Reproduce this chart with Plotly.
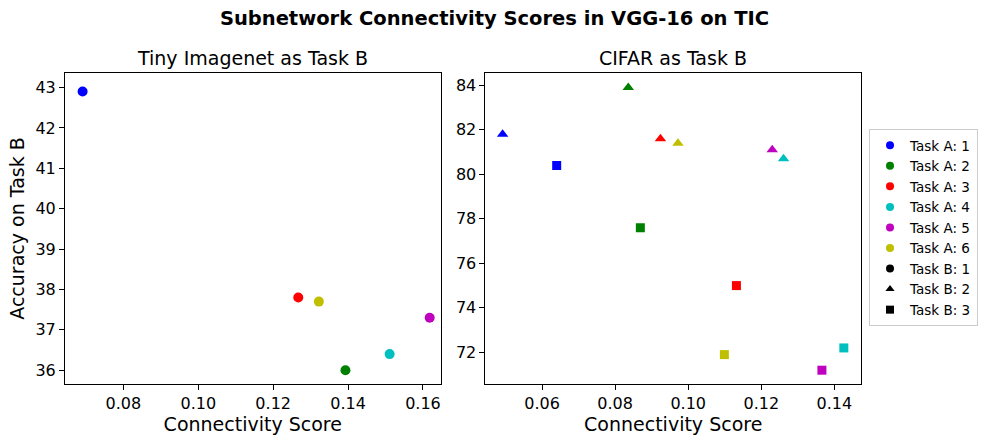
import plotly.graph_objects as go
from plotly.subplots import make_subplots

# Task A colours (1..6), matplotlib b g r c m y
task_a_labels = ["Task A: 1", "Task A: 2", "Task A: 3", "Task A: 4", "Task A: 5", "Task A: 6"]
task_a_colors = ["#0000ff", "#008000", "#ff0000", "#00bfbf", "#bf00bf", "#bfbf00"]
task_b_labels = ["Task B: 1", "Task B: 2", "Task B: 3"]
task_b_symbols = ["circle", "triangle-up", "square"]

# Tiny Imagenet as task B (task B: 1)
tiny_score = [0.0691, 0.1393, 0.1267, 0.1511, 0.1618, 0.1322]
tiny_acc = [42.9, 36.0, 37.8, 36.4, 37.3, 37.7]

# CIFAR as task B (task B: 2 and task B: 3)
cifar_b2_score = [0.0492, 0.0836, 0.0924, 0.1261, 0.1230, 0.0972]
cifar_b2_acc = [81.8, 83.9, 81.6, 80.7, 81.1, 81.4]
cifar_b3_score = [0.0640, 0.0869, 0.1132, 0.1426, 0.1366, 0.1099]
cifar_b3_acc = [80.4, 77.6, 75.0, 72.2, 71.2, 71.9]

FONT = "DejaVu Sans"

fig = make_subplots(rows=1, cols=2, horizontal_spacing=0.0564,
                    subplot_titles=("Tiny Imagenet as Task B", "CIFAR as Task B"))

fig.add_trace(go.Scatter(x=tiny_score, y=tiny_acc, mode="markers", showlegend=False,
                         marker=dict(symbol="circle", size=10, color=task_a_colors)),
              row=1, col=1)
fig.add_trace(go.Scatter(x=cifar_b2_score, y=cifar_b2_acc, mode="markers", showlegend=False,
                         marker=dict(symbol="triangle-up", size=10, color=task_a_colors)),
              row=1, col=2)
fig.add_trace(go.Scatter(x=cifar_b3_score, y=cifar_b3_acc, mode="markers", showlegend=False,
                         marker=dict(symbol="square", size=9, color=task_a_colors)),
              row=1, col=2)

# legend-only entries
for lab, col in zip(task_a_labels, task_a_colors):
    fig.add_trace(go.Scatter(x=[None], y=[None], mode="markers", name=lab,
                             marker=dict(symbol="circle", size=8, color=col)), row=1, col=2)
for lab, sym in zip(task_b_labels, task_b_symbols):
    fig.add_trace(go.Scatter(x=[None], y=[None], mode="markers", name=lab,
                             marker=dict(symbol=sym, size=8, color="black")), row=1, col=2)

axis_style = dict(showline=True, linecolor="black", linewidth=1, mirror=True,
                  ticks="outside", ticklen=5, tickcolor="black", showgrid=False,
                  zeroline=False, automargin=False, tickfont=dict(size=16, color="black"))

fig.update_xaxes(axis_style)
fig.update_yaxes(axis_style)

fig.update_xaxes(range=[0.0644, 0.1647], tick0=0.08, dtick=0.02, tickformat=".2f",
                 title=dict(text="Connectivity Score", font=dict(size=19, color="black"), standoff=4),
                 row=1, col=1)
fig.update_xaxes(range=[0.0445, 0.1473], tick0=0.06, dtick=0.02, tickformat=".2f",
                 title=dict(text="Connectivity Score", font=dict(size=19, color="black"), standoff=4),
                 row=1, col=2)
fig.update_yaxes(range=[35.66, 43.36], dtick=1,
                 title=dict(text="Accuracy on Task B", font=dict(size=19, color="black"), standoff=5),
                 row=1, col=1)
fig.update_yaxes(range=[70.58, 84.55], dtick=2, row=1, col=2)

for ann in fig.layout.annotations:
    ann.font = dict(size=19, color="black", family=FONT)
    ann.yshift = 2

fig.update_layout(
    width=989, height=446,
    margin=dict(l=65, r=127, t=73, b=62),
    plot_bgcolor="white",
    paper_bgcolor="white",
    font=dict(family=FONT, color="black"),
    title=dict(text="<b>Subnetwork Connectivity Scores in VGG-16 on TIC</b>",
               font=dict(size=19.5, color="black"),
               x=0.5, xref="container", xanchor="center",
               y=1 - 18 / 446, yref="container", yanchor="middle"),
    legend=dict(x=1.0088, xanchor="left", y=0.82, yanchor="top",
                bordercolor="#cccccc", borderwidth=1, bgcolor="white",
                font=dict(size=13.5, color="black"), itemsizing="trace"),
)

fig.write_html("out.html", config={"displayModeBar": False},
               post_script="document.body.style.margin='0';")
